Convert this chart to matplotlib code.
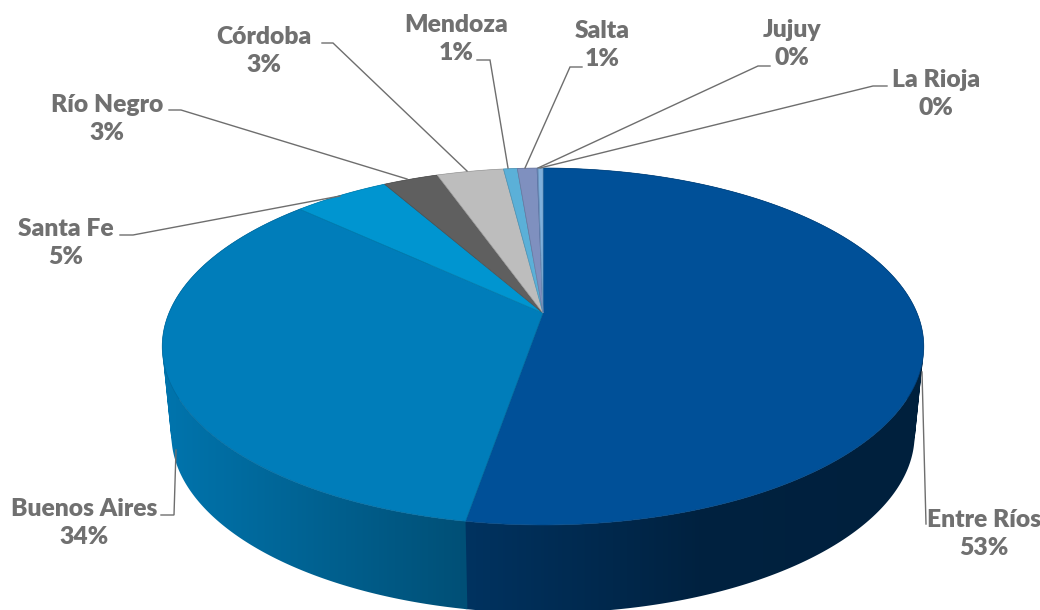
import matplotlib
matplotlib.use('Agg')
import matplotlib.pyplot as plt
from matplotlib.patches import PathPatch
from matplotlib.path import Path
import numpy as np

# ── Data ────────────────────────────────────────────────────────
provinces = ['Entre Ríos', 'Buenos Aires', 'Santa Fe', 'Río Negro', 'Córdoba',
             'Mendoza', 'Salta', 'Jujuy', 'La Rioja']
shares = [52.7, 34.2, 4.9, 2.8, 3.4, 0.7, 1.0, 0.05, 0.25]
pct_labels = ['53%', '34%', '5%', '3%', '3%', '1%', '1%', '0%', '0%']
colors = ['#005098', '#007DBA', '#0095D0', '#5F5F5F', '#BDBDBD',
          '#5BB0D8', '#7F90BF', '#6C8CC4', '#7FB0DC']

# label centres and leader lines, in picture pixels
label_pos = [(984, 534), (84, 523), (66, 243), (107, 119), (264, 51),
             (456, 39), (602, 45), (792, 44), (936, 94)]
leaders = [
    [(926, 524), (922, 372)],
    [(161, 515), (174, 515), (176, 450)],
    [(120, 235), (133, 235), (340, 196)],
    [(169, 110), (181, 110), (407, 179)],
    [(322, 43), (333, 43), (467, 171)],
    [(477, 60), (490, 60), (508, 168)],
    [(582, 67), (570, 67), (525, 168)],
    [(770, 66), (758, 66), (538, 168)],
    [(887, 86), (873, 86), (540, 168)],
]

# ── Perspective disc ─────────────────────────────────────────────
CX, CY = 543, 313
PERSP = 0.1877
SCALE_X, SCALE_Y = 374, 172.2
DEPTH = 88
BASE_SHRINK = 0.976


def top_xy(angle):
    # angle is clockwise from 12 o'clock, in radians
    u, v = np.sin(angle), np.cos(angle)
    w = 1 + PERSP * v
    return CX + SCALE_X * u / w, CY - SCALE_Y * v / w


def rim_path(start, end):
    # small quads, all wound the same way, so the swept side fills without holes
    angles = np.linspace(start, end, max(3, int((end - start) / np.radians(0.5))))
    x, y = top_xy(angles)
    xb = CX + BASE_SHRINK * (x - CX)
    yb = y + DEPTH
    quads = []
    for i in range(len(angles) - 1):
        quad = np.array([(x[i], y[i]), (x[i + 1], y[i + 1]),
                         (xb[i + 1], yb[i + 1]), (xb[i], yb[i])])
        qx, qy = quad[:, 0], quad[:, 1]
        area = np.dot(qx, np.roll(qy, -1)) - np.dot(qy, np.roll(qx, -1))
        if area < 0:
            quad = quad[::-1]
        quads.append(Path(np.vstack([quad, quad[0]]), closed=True))
    return Path.make_compound_path(*quads)


fig = plt.figure(figsize=(10.4, 6.1), dpi=100)
ax = fig.add_axes([0, 0, 1, 1])
ax.axis('off')

edges = np.concatenate([[0], np.cumsum(shares)]) / np.sum(shares) * 2 * np.pi

# ── Rim: a left-to-right gradient clipped to each slice ─────────
xgrid = np.arange(0, 1040)
shade = np.interp(xgrid, [165, 470, 700, 925], [0.93, 0.63, 0.42, 0.40])

for start, end, color in zip(edges[:-1], edges[1:], colors):
    rim = PathPatch(rim_path(start, end + np.radians(0.4)), transform=ax.transData,
                    facecolor='none', edgecolor='none')
    ax.add_patch(rim)
    strip = np.array(matplotlib.colors.to_rgb(color))[None, None, :] * shade[None, :, None]
    im = ax.imshow(strip, extent=[0, 1040, 610, 0], aspect='auto', zorder=2,
                   interpolation='bilinear')
    im.set_clip_path(rim)

# ── Top face ────────────────────────────────────────────────────
for start, end, color in zip(edges[:-1], edges[1:], colors):
    angles = np.linspace(start, end, max(3, int((end - start) / np.radians(0.5))))
    x, y = top_xy(angles)
    edge = tuple(np.array(matplotlib.colors.to_rgb(color)) * 0.85)
    ax.fill(np.r_[CX, x], np.r_[CY, y], facecolor=color, edgecolor=edge, lw=0.5, zorder=3)

# ── Leaders and labels ──────────────────────────────────────────
for line in leaders:
    xs, ys = zip(*line)
    ax.plot(xs, ys, color='#6E6E6E', lw=1.0, zorder=4, solid_joinstyle='miter')

for name, pct, (lx, ly) in zip(provinces, pct_labels, label_pos):
    ax.text(lx, ly, f'{name}\n{pct}', ha='center', va='center', color='#707070',
            family='Lato', weight='heavy', fontsize=17.7, linespacing=1.38, zorder=5)

ax.set_xlim(0, 1040)
ax.set_ylim(610, 0)

plt.savefig('out.png', dpi=100)
